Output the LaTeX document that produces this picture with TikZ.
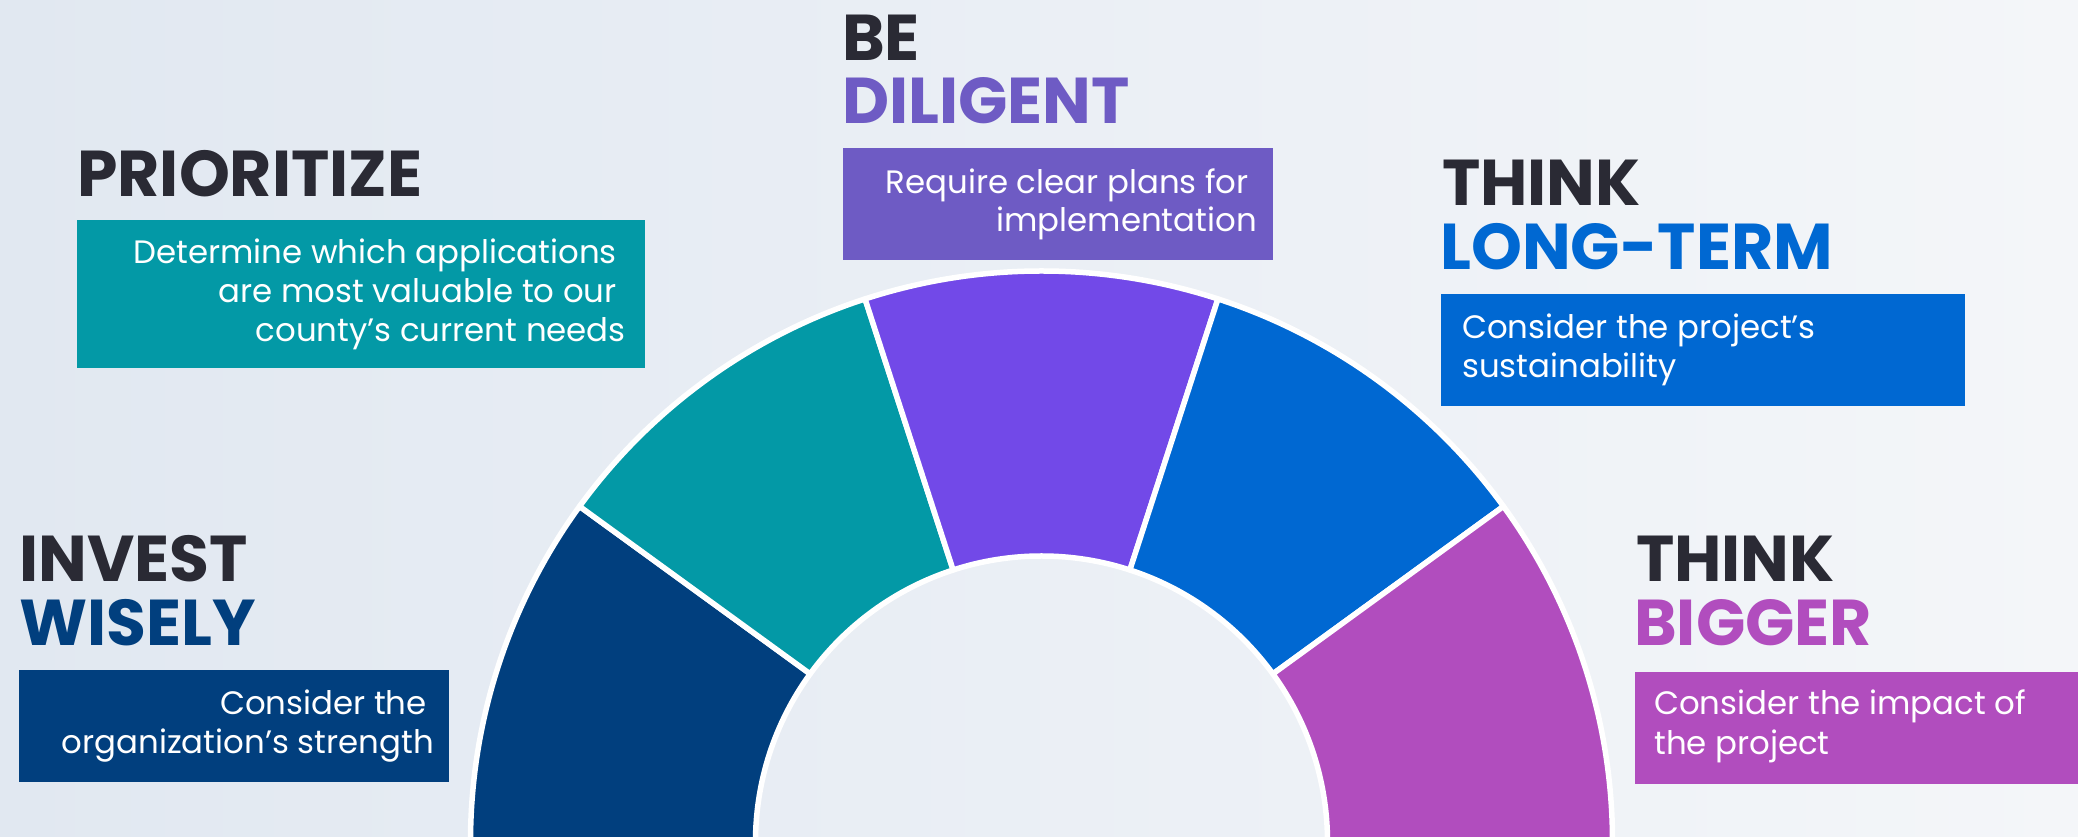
\documentclass[tikz,border=0pt]{standalone}
\usepackage{fontspec}
\setmainfont{Poppins}
\usetikzlibrary{calc}
\definecolor{bgl}{HTML}{E1E8F1}
\definecolor{bgr}{HTML}{F4F6F9}
\definecolor{cNavy}{HTML}{013F7E}
\definecolor{cTeal}{HTML}{0399A6}
\definecolor{cPurp}{HTML}{7249E8}
\definecolor{cPurpBox}{HTML}{6E5BC4}
\definecolor{cBlue}{HTML}{0068D2}
\definecolor{cMag}{HTML}{B14DBE}
\definecolor{cDark}{HTML}{2A2A34}
\begin{document}
\begin{tikzpicture}[x=1pt,y=1pt,
  title/.style={inner sep=0pt, anchor=base west, font=\fontsize{64.8}{65}\selectfont\bfseries},
  body/.style={inner sep=0pt, text=white, font=\fontsize{32.4}{39}\selectfont},
  box/.style={inner sep=0pt, anchor=north west, draw=none},
  wedge/.style={draw=white, line width=5.5pt, line join=round}]
\useasboundingbox (0,0) rectangle (2078,837);
\shade[left color=bgl, right color=bgr] (0,0) rectangle (2078,837);
\begin{scope}
\clip (0,0) rectangle (2078,837);
\coordinate (C) at (1041.5,-5);
\foreach \a/\b/\c in {144/180/cNavy, 108/144/cTeal, 72/108/cPurp, 36/72/cBlue, 0/36/cMag}
  \filldraw[wedge, fill=\c] ($(C)+(\a:571)$) arc[start angle=\a, end angle=\b, radius=571]
     -- ($(C)+(\b:286)$) arc[start angle=\b, end angle=\a, radius=286] -- cycle;
\end{scope}
% Invest wisely
\node[title, text=cDark] (t1a) at (19,255) {INVEST};
\node[title, text=cNavy] (t1b) at (19,191.3) {WISELY};
\node[box, fill=cNavy, minimum width=430pt, minimum height=112pt] (b1) at (19,167.3) {};
\node[body, anchor=base east] (l1a) at (427,122) {Consider the};
\node[body, anchor=base east] (l1b) at (434,83) {organization’s strength};
% Prioritize
\node[title, text=cDark] (t2a) at (77,640) {PRIORITIZE};
\node[box, fill=cTeal, minimum width=568pt, minimum height=148pt] (b2) at (76.8,617) {};
\node[body, anchor=base east] (l2a) at (617,573) {Determine which applications};
\node[body, anchor=base east] (l2b) at (617,534) {are most valuable to our};
\node[body, anchor=base east] (l2c) at (626,495) {county’s current needs};
% Be diligent
\node[title, text=cDark] (t3a) at (842,776.3) {BE};
\node[title, text=cPurpBox] (t3b) at (842,713) {DILIGENT};
\node[box, fill=cPurpBox, minimum width=430pt, minimum height=112pt] (b3) at (843,689) {};
\node[body, anchor=base east] (l3a) at (1249,643.7) {Require clear plans for};
\node[body, anchor=base east] (l3b) at (1257,605.3) {implementation};
% Think long-term
\node[title, text=cDark] (t4a) at (1442,631) {THINK};
\node[title, text=cBlue] (t4b) at (1440,567) {LONG-TERM};
\node[box, fill=cBlue, minimum width=524pt, minimum height=112pt] (b4) at (1441,543) {};
\node[body, anchor=base west] (l4a) at (1462,498) {Consider the project’s};
\node[body, anchor=base west] (l4b) at (1462,459.3) {sustainability};
% Think bigger
\node[title, text=cDark] (t5a) at (1636,255.3) {THINK};
\node[title, text=cMag] (t5b) at (1634,191.3) {BIGGER};
\node[box, fill=cMag, minimum width=443pt, minimum height=112pt] (b5) at (1635,164.7) {};
\node[body, anchor=base west] (l5a) at (1654,122) {Consider the impact of};
\node[body, anchor=base west] (l5b) at (1654,82) {the project};
\end{tikzpicture}
\end{document}
